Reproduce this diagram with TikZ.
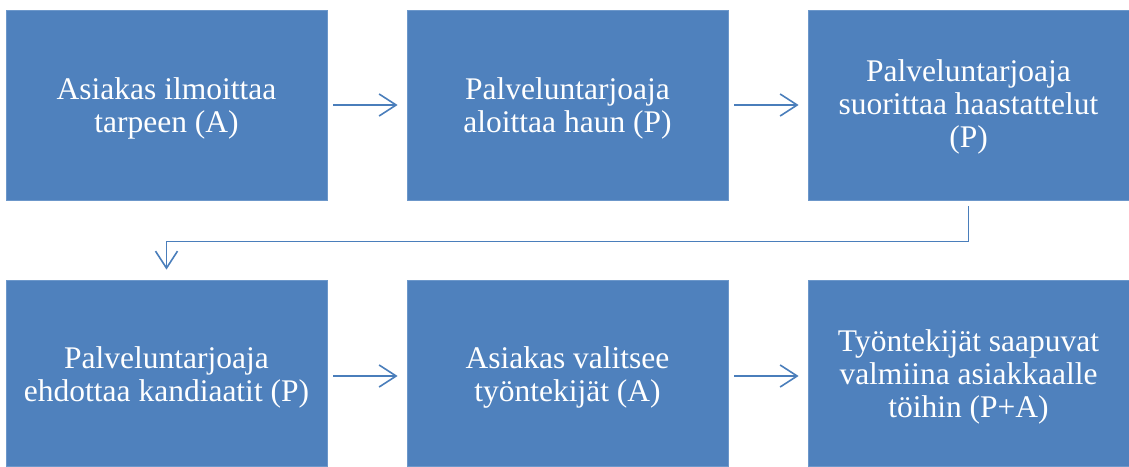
\documentclass[tikz,border=0pt]{standalone}
\usepackage{fontspec}
\setmainfont{Liberation Serif}
\usetikzlibrary{arrows.meta}
\definecolor{boxblue}{HTML}{4F81BD}
\definecolor{boxedge}{HTML}{6C97CA}
\definecolor{linkblue}{HTML}{4A7EBB}
% centred lines of a box, set a little below the box centre
\newcommand\boxlines[2]{\raisebox{#1}[\height][\depth]{\begin{tabular}{@{}c@{}}#2\end{tabular}}}
\begin{document}
\begin{tikzpicture}[x=1pt,y=-1pt,
  stepbox/.style={fill=boxblue, draw=boxedge, line width=0.8pt, text=white,
    minimum width=321pt, inner sep=0pt,
    font=\fontsize{31.5}{33}\selectfont},
  toprow/.style={stepbox, minimum height=190pt},
  botrow/.style={stepbox, minimum height=186pt},
  link/.style={draw=linkblue, line width=1.6pt,
    -{Straight Barb[length=17pt,width=22pt,line width=1.6pt]}}]
\useasboundingbox (0,0) rectangle (1129,466);
% first row
\node[toprow] (b1) at (166.5,105) {\boxlines{-4pt}{Asiakas ilmoittaa\\tarpeen (A)}};
\node[toprow] (b2) at (567.5,105) {\boxlines{-4pt}{Palveluntarjoaja\\aloittaa haun (P)}};
\node[toprow] (b3) at (968.5,105) {\boxlines{-3pt}{Palveluntarjoaja\\suorittaa haastattelut\\(P)}};
% second row
\node[botrow] (b4) at (166.5,373) {\boxlines{-5pt}{Palveluntarjoaja\\ehdottaa kandiaatit (P)}};
\node[botrow] (b5) at (567.5,373) {\boxlines{-5pt}{Asiakas valitsee\\työntekijät (A)}};
\node[botrow] (b6) at (968.5,373) {\boxlines{-5pt}{Työntekijät saapuvat\\valmiina asiakkaalle\\töihin (P+A)}};
% links along the rows
\draw[link, shorten <=6pt, shorten >=9pt] (b1.east) -- (b2.west);
\draw[link, shorten <=6pt, shorten >=9pt] (b2.east) -- (b3.west);
\draw[link, shorten <=6pt, shorten >=9pt] ([yshift=-3pt]b4.east) -- ([yshift=-3pt]b5.west);
\draw[link, shorten <=6pt, shorten >=9pt] ([yshift=-3pt]b5.east) -- ([yshift=-3pt]b6.west);
% link from the end of the first row to the start of the second
\draw[link, shorten <=6pt, shorten >=10pt] (b3.south) -- ++(0,41) -| (b4.north);
\end{tikzpicture}
\end{document}
